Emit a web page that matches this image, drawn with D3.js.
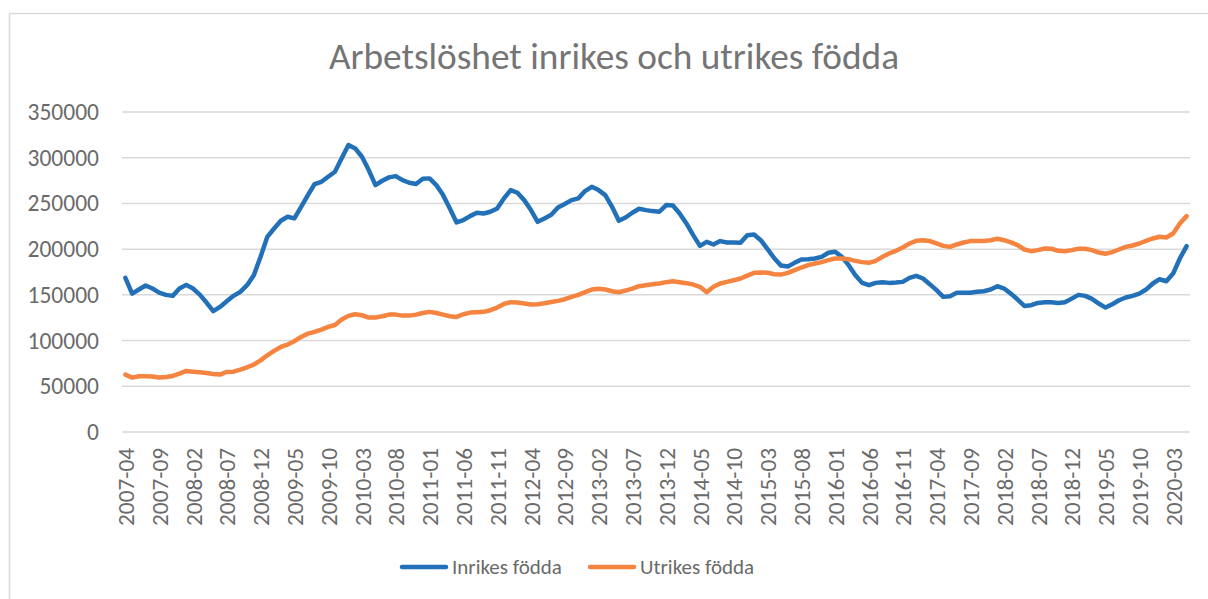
<!DOCTYPE html>
<html>
<head>
<meta charset="utf-8">
<script src="https://cdn.jsdelivr.net/npm/d3@7"></script>
<style>
  body { margin: 0; background: #fff; }
  text { font-family: Calibri, Carlito, "Open Sans", sans-serif; fill: #6a6a6a; }
</style>
</head>
<body>
<div id="vis"></div>
<script>
const width = 1208;
const height = 599;

// chart texts
const title = 'Arbetslöshet inrikes och utrikes födda';
const seriesNames = ['Inrikes födda', 'Utrikes födda'];
const seriesColors = ['#2271b8', '#f4843f'];
const yTicks = [0, 50000, 100000, 150000, 200000, 250000, 300000, 350000];

// monthly categories, 2007-04 .. 2020-05
const months = d3.utcMonth.range(new Date(Date.UTC(2007, 3, 1)), new Date(Date.UTC(2020, 5, 1)))
                  .map(d3.utcFormat('%Y-%m'));

// values
const inrikes = [
  168600, 151400, 155800, 160200, 156900, 152500, 150000, 148900, 156900, 160900,
  156900, 150300, 141600, 132100, 136800, 143000, 148900, 153300, 160600, 171500,
  191600, 213500, 222600, 231000, 235400, 233600, 246300, 259100, 271200, 273700,
  279200, 284700, 299300, 313900, 310200, 301100, 286500, 270100, 274800, 278500,
  279900, 275500, 272600, 271200, 277000, 277400, 270100, 259100, 244500, 229200,
  231800, 236100, 239800, 239000, 240900, 244500, 255500, 264600, 261700, 253600,
  242700, 229900, 233600, 237500, 245600, 249300, 253600, 255500, 263500, 268200,
  264600, 259100, 246300, 231000, 234600, 239800, 244200, 242700, 241600, 240900,
  248200, 247800, 239000, 228100, 215300, 203600, 208000, 205100, 208800, 207300,
  207300, 206900, 215300, 216100, 209800, 200000, 190000, 182000, 181000, 185000,
  188700, 189000, 189800, 191600, 196000, 197100, 191600, 182500, 171500, 163100,
  160600, 163100, 163900, 163100, 163500, 164200, 168600, 170800, 167900, 161700,
  155100, 147800, 148500, 152200, 152200, 152200, 153300, 154000, 155800, 159500,
  156900, 151400, 144900, 137900, 138700, 141200, 141900, 141900, 141200, 141900,
  145900, 150000, 148900, 145600, 140500, 136100, 139800, 144100, 147100, 148900,
  151400, 155800, 162400, 167100, 164900, 173300, 189800, 203300
];
const utrikes = [
  62800, 59500, 60900, 60900, 60600, 59500, 60200, 61300, 63800, 66800,
  66000, 65300, 64600, 63500, 62800, 65700, 66000, 68200, 70800, 73700,
  78400, 83900, 88700, 93000, 95600, 99300, 104000, 107600, 109500, 112000,
  115000, 117000, 123000, 127000, 128800, 127700, 125200, 125200, 126600, 128400,
  128400, 127300, 127300, 128400, 130200, 131400, 130200, 128400, 126600, 125900,
  128800, 130600, 131000, 131400, 133200, 136100, 140100, 142000, 141600, 140500,
  139400, 139800, 140900, 142200, 143400, 145200, 147800, 150000, 152900, 155800,
  156600, 155800, 154000, 152900, 154700, 156900, 159500, 160600, 161700, 162400,
  163900, 164900, 163900, 162800, 161300, 158800, 152900, 158800, 162400, 164200,
  166000, 167900, 171100, 174100, 174400, 174100, 172600, 172200, 174100, 177000,
  179900, 182500, 184300, 185800, 188000, 189800, 189800, 189000, 187200, 185800,
  185000, 187200, 191600, 195300, 198200, 201800, 206200, 209100, 209800, 208800,
  206200, 203600, 202500, 205100, 207300, 208800, 208800, 209000, 209800, 211300,
  209800, 207300, 204400, 199600, 197800, 198900, 200700, 200400, 198200, 197800,
  198900, 200400, 200400, 198900, 196300, 194900, 196700, 199600, 202500, 204000,
  206200, 209100, 211700, 213500, 212800, 217100, 228100, 236100
];

const series = [inrikes, utrikes];

const margin = {left: 122, right: 18, top: 112, bottom: 167};

let vis = d3.select('#vis')
            .append('svg')
            .attr('width', width)
            .attr('height', height);

// chart frame
vis.append('rect')
   .attr('x', 9.5).attr('y', 13.5)
   .attr('width', width + 20).attr('height', height + 20)
   .attr('fill', '#fff')
   .attr('stroke', '#d9d9d9')
   .attr('stroke-width', 1.5);

const x = d3.scalePoint()
            .domain(months)
            .range([margin.left, width - margin.right])
            .padding(0.5);

const y = d3.scaleLinear()
            .domain([0, 350000])
            .range([height - margin.bottom, margin.top]);

// gridlines
vis.append('g')
   .selectAll('line')
   .data(yTicks)
   .enter()
   .append('line')
   .attr('x1', margin.left)
   .attr('x2', width - margin.right)
   .attr('y1', d => y(d))
   .attr('y2', d => y(d))
   .attr('stroke', '#d9d9d9')
   .attr('stroke-width', 1.5);

// y axis labels
const yAxis = vis.append('g')
                 .attr('transform', `translate(${margin.left - 23},0)`)
                 .call(d3.axisLeft(y).tickValues(yTicks).tickSize(0).tickPadding(0).tickFormat(d3.format('d')));
yAxis.select('.domain').remove();
yAxis.selectAll('text')
     .style('font-family', 'Calibri, Carlito, "Open Sans", sans-serif')
     .style('font-size', '23.5px')
     .attr('fill', '#6a6a6a');

// x axis labels, every 5th month
const xAxis = vis.append('g')
                 .attr('transform', `translate(0,${y(0)})`)
                 .call(d3.axisBottom(x).tickValues(months.filter((d, i) => i % 5 === 0)).tickSize(0));
xAxis.select('.domain').remove();
xAxis.selectAll('text')
     .style('font-family', 'Calibri, Carlito, "Open Sans", sans-serif')
     .style('font-size', '23.3px')
     .attr('fill', '#6a6a6a')
     .attr('transform', 'rotate(-90)')
     .attr('x', -16)
     .attr('y', 0)
     .attr('dy', '0.35em')
     .attr('text-anchor', 'end');

// lines
const line = d3.line()
               .x((d, i) => x(months[i]))
               .y(d => y(d));

vis.append('g')
   .selectAll('path')
   .data(series)
   .enter()
   .append('path')
   .attr('d', line)
   .attr('fill', 'none')
   .attr('stroke', (d, i) => seriesColors[i])
   .attr('stroke-width', 4.5)
   .attr('stroke-linejoin', 'round')
   .attr('stroke-linecap', 'round');

// title
vis.append('text')
   .attr('x', 614)
   .attr('y', 69)
   .attr('text-anchor', 'middle')
   .style('font-size', '37.3px')
   .style('fill', '#757575')
   .text(title);

// legend
const legendX = [400, 588];
const legend = vis.append('g')
                  .selectAll('g')
                  .data(seriesNames)
                  .enter()
                  .append('g')
                  .attr('transform', (d, i) => `translate(${legendX[i]},567)`);

legend.append('line')
      .attr('x1', 2).attr('x2', 46)
      .attr('stroke', (d, i) => seriesColors[i])
      .attr('stroke-width', 4.5)
      .attr('stroke-linecap', 'round');

legend.append('text')
      .attr('x', 52)
      .attr('dy', '0.35em')
      .style('font-size', '21px')
      .text(d => d);
</script>
</body>
</html>
